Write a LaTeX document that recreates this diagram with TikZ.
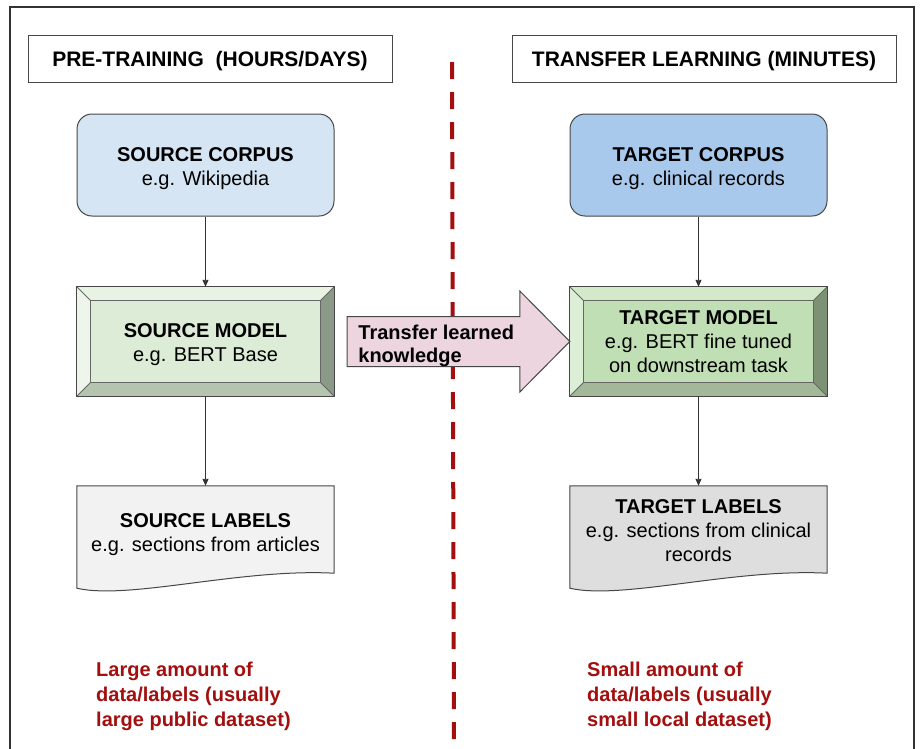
\documentclass[tikz,border=0pt]{standalone}
\usepackage{fontspec}
\setmainfont{Liberation Sans}
\usetikzlibrary{calc,arrows.meta,positioning,backgrounds}

\definecolor{srcblue}{HTML}{D5E5F3}
\definecolor{tgtblue}{HTML}{A9C9EC}
\definecolor{notered}{HTML}{A30F0F}
\definecolor{xferpink}{HTML}{ECD5DF}
% source model face and bevels
\definecolor{srcface}{RGB}{221,236,214}
\definecolor{srctop}{RGB}{232,243,228}
\definecolor{srcleft}{RGB}{238,246,236}
\definecolor{srcright}{RGB}{139,154,134}
\definecolor{srcbot}{RGB}{181,196,174}
% target model face and bevels
\definecolor{tgtface}{RGB}{193,223,180}
\definecolor{tgttop}{RGB}{211,233,202}
\definecolor{tgtleft}{RGB}{220,239,214}
\definecolor{tgtright}{RGB}{125,145,116}
\definecolor{tgtbot}{RGB}{162,184,152}

% box title, with a strut so the lines sit a little lower
\newcommand{\ttl}[1]{\rule{0pt}{21pt}\textbf{#1}}

% bevelled box drawn over a node: name, top, left, right, bottom colours
\newcommand{\bevelbox}[5]{%
  \fill[#2] (#1.north west) -- (#1.north east) -- ($(#1.north east)+(-14,14)$) -- ($(#1.north west)+(14,14)$) -- cycle;
  \fill[#3] (#1.north west) -- ($(#1.north west)+(14,14)$) -- ($(#1.south west)+(14,-14)$) -- (#1.south west) -- cycle;
  \fill[#4] (#1.north east) -- ($(#1.north east)+(-14,14)$) -- ($(#1.south east)+(-14,-14)$) -- (#1.south east) -- cycle;
  \fill[#5] (#1.south west) -- ($(#1.south west)+(14,-14)$) -- ($(#1.south east)+(-14,-14)$) -- (#1.south east) -- cycle;
  \draw[bevelline] ($(#1.north west)+(14,14)$) rectangle ($(#1.south east)+(-14,-14)$);
  \draw[bevelline] (#1.north west) -- ++(14,14) (#1.north east) -- ++(-14,14)
                   (#1.south west) -- ++(14,-14) (#1.south east) -- ++(-14,-14);
  \draw[boxline] (#1.north west) rectangle (#1.south east);
}

\begin{document}
\begin{tikzpicture}[
  x=1pt,y=-1pt,
  boxline/.style={draw=black!72,line width=1pt},
  bevelline/.style={draw=black!60,line width=0.8pt},
  hdr/.style={boxline,minimum height=47,inner sep=0,text depth=0pt,font=\fontsize{21}{25}\selectfont\bfseries},
  box/.style={minimum width=257,minimum height=102,inner sep=0,align=center,font=\fontsize{20}{24}\selectfont},
  corpus/.style={box,boxline,rounded corners=15},
  model/.style={box,minimum height=109},
  labels/.style={box,minimum height=90},
  doc/.style={boxline},
  flow/.style={-{Triangle[length=7,width=6]},draw=black!80,line width=0.9pt},
  xfer/.style={boxline,fill=xferpink},
  xfertext/.style={anchor=west,inner sep=0,align=left,font=\fontsize{20}{23}\selectfont\bfseries},
  note/.style={anchor=north west,inner sep=0,align=left,text=notered,font=\fontsize{20}{25}\selectfont\bfseries},
  divider/.style={draw=notered,line width=4pt,dash pattern=on 17pt off 13pt}
]
  \useasboundingbox (0,0) rectangle (920,748);

  % frame, open at the bottom of the page
  \draw[draw=black!80,line width=1.8pt] (10,7) rectangle (914,780);

  % phase headers
  \node[hdr,minimum width=364] (prehdr) at (210,58.5) {PRE-TRAINING~ (HOURS/DAYS)};
  \node[hdr,minimum width=384] (tlhdr)  at (704,58.5) {TRANSFER LEARNING (MINUTES)};

  % divider
  \draw[divider] (452,62) -- (454,748);

  % corpora
  \node[corpus,fill=srcblue] (srccorp) at (205.5,165) {\ttl{SOURCE CORPUS}\\e.g. Wikipedia};
  \node[corpus,fill=tgtblue] (tgtcorp) at (698.5,165) {\ttl{TARGET CORPUS}\\e.g. clinical records};

  % models (bevelled)
  \node[model,fill=srcface] (srcmod) at (205.5,341.5) {};
  \bevelbox{srcmod}{srctop}{srcleft}{srcright}{srcbot}
  \node[model] (srcmodtxt) at (srcmod) {\ttl{SOURCE MODEL}\\e.g. BERT Base};

  \node[model,fill=tgtface] (tgtmod) at (698.5,341.5) {};
  \bevelbox{tgtmod}{tgttop}{tgtleft}{tgtright}{tgtbot}
  \node[model] (tgtmodtxt) at (tgtmod) {\textbf{TARGET MODEL}\\e.g. BERT fine tuned\\on downstream task};

  % labels (document shapes)
  \node[labels] (srclab) at (205.5,531) {\ttl{SOURCE LABELS}\\e.g. sections from articles};
  \node[labels] (tgtlab) at (698.5,531) {\textbf{TARGET LABELS}\\e.g. sections from clinical\\records};
  \begin{scope}[on background layer]
    \fill[white] (0,0) rectangle (920,748);
    \draw[doc,fill=black!5] (srclab.north west) -- (srclab.north east) -- ($(srclab.south east)+(0,-3)$)
      .. controls ($(srclab.south east)+(-94,-8)$) and ($(srclab.south west)+(53,24)$) .. ($(srclab.south west)+(0,12)$) -- cycle;
    \draw[doc,fill=black!13] (tgtlab.north west) -- (tgtlab.north east) -- ($(tgtlab.south east)+(0,-3)$)
      .. controls ($(tgtlab.south east)+(-94,-8)$) and ($(tgtlab.south west)+(53,24)$) .. ($(tgtlab.south west)+(0,12)$) -- cycle;
  \end{scope}

  % vertical flow
  \draw[flow] (srccorp) -- (srcmod);
  \draw[flow] (srcmod) -- (srclab);
  \draw[flow] (tgtcorp) -- (tgtmod);
  \draw[flow] (tgtmod) -- (tgtlab);

  % transfer arrow
  \draw[xfer] ($(srcmod.east)+(13,-25)$) -- ($(tgtmod.west)+(-50,-25)$) -- ($(tgtmod.west)+(-50,-50.5)$)
    -- (tgtmod.west) -- ($(tgtmod.west)+(-50,50.5)$) -- ($(tgtmod.west)+(-50,25)$) -- ($(srcmod.east)+(13,25)$) -- cycle;
  \node[xfertext] (xferlbl) at ($(srcmod.east)+(24,4)$) {Transfer learned\\knowledge};

  % notes
  \node[note] (srcnote) at (96,662) {Large amount of\\data/labels (usually\\large public dataset)};
  \node[note] (tgtnote) at (587,662) {Small amount of\\data/labels (usually\\small local dataset)};
\end{tikzpicture}
\end{document}
